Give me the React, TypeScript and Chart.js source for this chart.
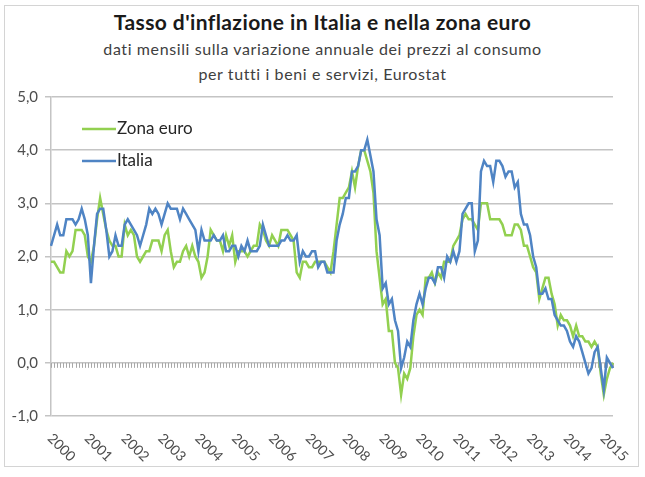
import React, { useEffect, useRef } from "react";
import { Chart, registerables } from "chart.js";

Chart.register(...registerables);

// ---- data ----
const YEARS = ["2000", "2001", "2002", "2003", "2004", "2005", "2006", "2007", "2008", "2009", "2010", "2011", "2012", "2013", "2014", "2015"];
const MONTHS = ["01", "02", "03", "04", "05", "06", "07", "08", "09", "10", "11", "12"];

const TITLE = "Tasso d'inflazione  in Italia e nella zona euro";
const SUBTITLE = [
  "dati mensili sulla variazione annuale dei prezzi al consumo",
  "per tutti i beni e servizi, Eurostat",
];

const SERIES_LABELS = ["Zona euro", "Italia"];

const ZONA_EURO = [
  1.9, 1.9, 1.8, 1.7, 1.7, 2.1, 2.0, 2.1, 2.5, 2.5, 2.5, 2.4, // 2000
  2.0, 1.9, 2.2, 2.7, 3.1, 2.8, 2.5, 2.3, 2.2, 2.2, 2.0, 2.0, // 2001
  2.6, 2.4, 2.5, 2.4, 2.0, 1.9, 2.0, 2.1, 2.1, 2.3, 2.3, 2.3, // 2002
  2.1, 2.4, 2.5, 2.1, 1.8, 1.9, 1.9, 2.1, 2.2, 2.0, 2.2, 2.0, // 2003
  1.9, 1.6, 1.7, 2.0, 2.5, 2.4, 2.3, 2.3, 2.1, 2.4, 2.2, 2.4, // 2004
  1.9, 2.1, 2.1, 2.1, 2.0, 2.1, 2.2, 2.2, 2.6, 2.5, 2.3, 2.2, // 2005
  2.4, 2.3, 2.2, 2.5, 2.5, 2.5, 2.4, 2.3, 1.7, 1.6, 1.9, 1.9, // 2006
  1.8, 1.8, 1.9, 1.9, 1.9, 1.9, 1.8, 1.7, 2.1, 2.6, 3.1, 3.1, // 2007
  3.2, 3.3, 3.6, 3.3, 3.7, 4.0, 4.0, 3.8, 3.6, 3.2, 2.1, 1.6, // 2008
  1.1, 1.2, 0.6, 0.6, 0.0, -0.1, -0.6, -0.2, -0.3, -0.1, 0.5, 0.9, // 2009
  1.0, 0.9, 1.6, 1.6, 1.7, 1.5, 1.7, 1.6, 1.9, 1.9, 1.9, 2.2, // 2010
  2.3, 2.4, 2.7, 2.8, 2.7, 2.7, 2.6, 2.5, 3.0, 3.0, 3.0, 2.7, // 2011
  2.7, 2.7, 2.7, 2.6, 2.4, 2.4, 2.4, 2.6, 2.6, 2.5, 2.2, 2.2, // 2012
  2.0, 1.8, 1.7, 1.2, 1.4, 1.6, 1.6, 1.3, 1.1, 0.7, 0.9, 0.8, // 2013
  0.8, 0.7, 0.5, 0.7, 0.5, 0.5, 0.4, 0.4, 0.3, 0.4, 0.3, -0.2, // 2014
  -0.6, -0.3, -0.1, 0.0, // 2015
];

const ITALIA = [
  2.2, 2.4, 2.6, 2.4, 2.4, 2.7, 2.7, 2.7, 2.6, 2.7, 2.9, 2.7, // 2000
  2.4, 1.5, 2.2, 2.8, 2.9, 2.9, 2.5, 2.0, 2.1, 2.4, 2.2, 2.2, // 2001
  2.6, 2.7, 2.6, 2.5, 2.4, 2.2, 2.4, 2.6, 2.9, 2.8, 2.9, 2.8, // 2002
  2.6, 2.8, 3.0, 2.9, 2.9, 2.9, 2.7, 2.9, 2.8, 2.7, 2.6, 2.5, // 2003
  2.1, 2.5, 2.3, 2.3, 2.3, 2.4, 2.3, 2.3, 2.4, 2.1, 2.1, 2.2, // 2004
  2.2, 2.0, 2.2, 2.1, 2.3, 2.1, 2.1, 2.1, 2.2, 2.6, 2.4, 2.2, // 2005
  2.2, 2.2, 2.2, 2.3, 2.3, 2.4, 2.3, 2.3, 2.4, 1.9, 2.1, 2.0, // 2006
  2.0, 2.1, 2.1, 1.8, 1.9, 1.9, 1.7, 1.7, 1.7, 2.3, 2.6, 2.8, // 2007
  3.1, 3.1, 3.6, 3.6, 3.7, 4.0, 4.0, 4.2, 3.9, 3.6, 2.7, 2.4, // 2008
  1.4, 1.5, 1.1, 1.2, 0.8, 0.6, -0.1, 0.1, 0.4, 0.3, 0.8, 1.1, // 2009
  1.3, 1.1, 1.4, 1.6, 1.6, 1.5, 1.8, 1.8, 1.6, 2.0, 1.9, 2.1, // 2010
  1.9, 2.1, 2.8, 2.9, 3.0, 3.0, 2.1, 2.3, 3.6, 3.8, 3.7, 3.7, // 2011
  3.4, 3.8, 3.8, 3.7, 3.5, 3.6, 3.6, 3.3, 3.4, 2.8, 2.6, 2.6, // 2012
  2.4, 2.0, 1.8, 1.3, 1.3, 1.4, 1.2, 1.2, 0.9, 0.8, 0.7, 0.7, // 2013
  0.6, 0.4, 0.3, 0.5, 0.4, 0.2, 0.0, -0.2, -0.1, 0.2, 0.3, -0.1, // 2014
  -0.5, 0.1, 0.0, -0.1, // 2015
];

const Y_MIN = -1;
const Y_MAX = 5;
const Y_STEP = 1;

// ---- styles ----
const GREEN = "#92d050";
const BLUE = "#4f84c4";
const GRID = "#c4c4c4";
const TEXT = "#4d4d4d";
const FONT = "Lato, 'Open Sans', sans-serif";

const CATEGORIES = YEARS.flatMap((y) => MONTHS.map((m) => `${y}-${m}`)).slice(0, ZONA_EURO.length);

const zeroTicksPlugin = {
  id: "zeroTicks",
  beforeDatasetsDraw(chart: any) {
    const { ctx, scales } = chart;
    const x = scales.x;
    const y0 = scales.y.getPixelForValue(0);
    ctx.save();
    ctx.strokeStyle = "#a8a8a8";
    ctx.lineWidth = 1;
    ctx.beginPath();
    for (let i = 0; i < CATEGORIES.length; i++) {
      const px = Math.round(x.getPixelForValue(i)) + 0.5;
      ctx.moveTo(px, y0);
      ctx.lineTo(px, y0 + 5);
    }
    ctx.stroke();
    ctx.restore();
  },
};

const yearLabelsPlugin = {
  id: "yearLabels",
  afterDraw(chart: any) {
    const { ctx, scales, chartArea } = chart;
    const x = scales.x;
    ctx.save();
    ctx.fillStyle = TEXT;
    ctx.font = `14px ${FONT}`;
    ctx.textAlign = "left";
    ctx.textBaseline = "middle";
    CATEGORIES.forEach((c, i) => {
      if (!c.endsWith("-01")) return;
      const px = x.getPixelForValue(i);
      ctx.save();
      ctx.translate(px - 1, chartArea.bottom + 20);
      ctx.rotate(Math.PI / 4);
      ctx.fillText(c.slice(0, 4), 0, 0);
      ctx.restore();
    });
    ctx.restore();
  },
};

const legendPlugin = {
  id: "insideLegend",
  afterDraw(chart: any) {
    const { ctx, chartArea } = chart;
    ctx.save();
    ctx.font = `17px ${FONT}`;
    ctx.textAlign = "left";
    ctx.textBaseline = "middle";
    chart.data.datasets.forEach((ds: any, k: number) => {
      const yy = chartArea.top + 32 + k * 32;
      const x0 = chartArea.left + 31;
      ctx.strokeStyle = ds.borderColor;
      ctx.lineWidth = 2.5;
      ctx.beginPath();
      ctx.moveTo(x0, yy);
      ctx.lineTo(x0 + 34, yy);
      ctx.stroke();
      ctx.fillStyle = "#262626";
      ctx.fillText(ds.label, x0 + 35, yy);
    });
    ctx.restore();
  },
};

export default function App() {
  const ref = useRef<HTMLCanvasElement | null>(null);

  useEffect(() => {
    if (!ref.current) return;
    const chart = new Chart(ref.current, {
      type: "line",
      data: {
        labels: CATEGORIES,
        datasets: [
          {
            label: SERIES_LABELS[0],
            data: ZONA_EURO,
            borderColor: GREEN,
            backgroundColor: GREEN,
            borderWidth: 2.5,
            pointRadius: 0,
            tension: 0,
            order: 1,
          },
          {
            label: SERIES_LABELS[1],
            data: ITALIA,
            borderColor: BLUE,
            backgroundColor: BLUE,
            borderWidth: 2.5,
            pointRadius: 0,
            tension: 0,
            order: 0,
          },
        ],
      },
      options: {
        animation: false,
        responsive: false,
        devicePixelRatio: 1,
        layout: { padding: { left: 0, right: 32, top: 97, bottom: 61 } },
        plugins: {
          legend: { display: false },
          title: { display: false },
          tooltip: { enabled: false },
        },
        scales: {
          x: {
            type: "category",
            offset: false,
            grid: { display: false },
            border: { display: false },
            ticks: { display: false },
            afterFit: (s: any) => {
              s.height = 0;
            },
          },
          y: {
            min: Y_MIN,
            max: Y_MAX,
            ticks: {
              stepSize: Y_STEP,
              color: TEXT,
              font: { family: FONT, size: 15 },
              padding: 7,
              callback: (v: any) => Number(v).toFixed(1).replace(".", ","),
            },
            grid: { color: GRID, lineWidth: 1.5, tickLength: 6 },
            border: { display: true, color: GRID, width: 1.5 },
            afterFit: (s: any) => {
              s.width = 51;
            },
          },
        },
      },
      plugins: [zeroTicksPlugin, yearLabelsPlugin, legendPlugin],
    });
    return () => chart.destroy();
  }, []);

  return (
    <div style={{ position: "fixed", left: 0, top: 0, width: 645, height: 477, background: "#fff", fontFamily: FONT }}>
      <div
        style={{
          position: "absolute",
          left: 4,
          top: 5,
          width: 635,
          height: 462,
          border: "1px solid #d4d4d4",
          boxSizing: "border-box",
        }}
      />
      <div
        style={{
          position: "absolute",
          left: 0,
          top: 10,
          width: 645,
          textAlign: "center",
          fontSize: 21,
          lineHeight: "24px",
          letterSpacing: "0.4px",
          fontWeight: 700,
          color: "#1a1a1a",
        }}
      >
        {TITLE}
      </div>
      <div
        style={{
          position: "absolute",
          left: 0,
          top: 36,
          width: 645,
          textAlign: "center",
          fontSize: 16,
          lineHeight: "25px",
          letterSpacing: "0.6px",
          color: "#404040",
        }}
      >
        {SUBTITLE.map((s) => (
          <div key={s}>{s}</div>
        ))}
      </div>
      <canvas ref={ref} width={645} height={477} style={{ position: "absolute", left: 0, top: 0 }} />
    </div>
  );
}
